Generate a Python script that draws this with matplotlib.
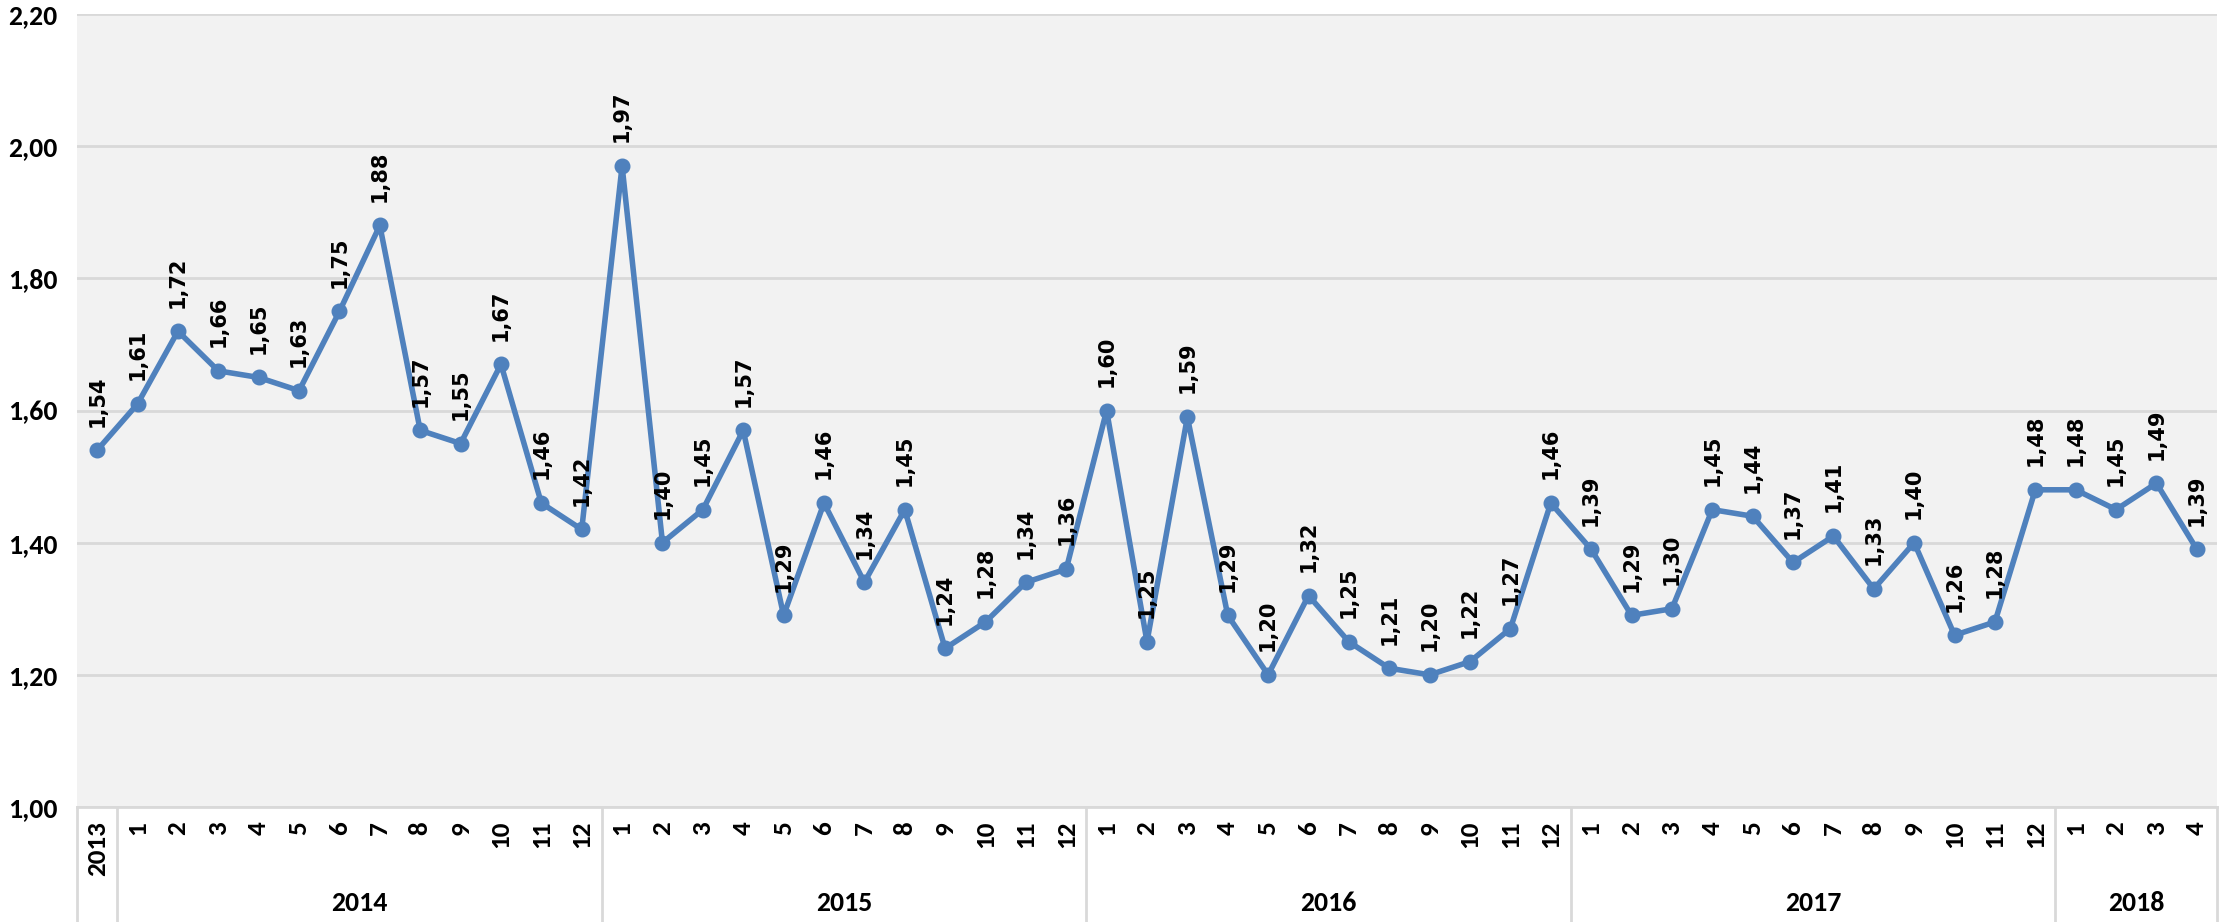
import matplotlib.pyplot as plt
from matplotlib import transforms

# data
years = ['2013', '2014', '2015', '2016', '2017', '2018']
months = [['2013'],
          [str(m) for m in range(1, 13)],
          [str(m) for m in range(1, 13)],
          [str(m) for m in range(1, 13)],
          [str(m) for m in range(1, 13)],
          ['1', '2', '3', '4']]
values_2013 = [1.54]
values_2014 = [1.61, 1.72, 1.66, 1.65, 1.63, 1.75, 1.88, 1.57, 1.55, 1.67, 1.46, 1.42]
values_2015 = [1.97, 1.40, 1.45, 1.57, 1.29, 1.46, 1.34, 1.45, 1.24, 1.28, 1.34, 1.36]
values_2016 = [1.60, 1.25, 1.59, 1.29, 1.20, 1.32, 1.25, 1.21, 1.20, 1.22, 1.27, 1.46]
values_2017 = [1.39, 1.29, 1.30, 1.45, 1.44, 1.37, 1.41, 1.33, 1.40, 1.26, 1.28, 1.48]
values_2018 = [1.48, 1.45, 1.49, 1.39]
y_ticks = [1.0, 1.2, 1.4, 1.6, 1.8, 2.0, 2.2]

values = values_2013 + values_2014 + values_2015 + values_2016 + values_2017 + values_2018
labels = [m for grp in months for m in grp]
x = list(range(len(values)))

BLUE = '#4f81bd'
GRID = '#d9d9d9'
CAL = ['Carlito', 'DejaVu Sans']

W, H = 2234, 922
fig = plt.figure(figsize=(W / 100, H / 100), dpi=100)
left, right, top, bottom = 77, 2217, 14, 807
ax = fig.add_axes([left / W, (H - bottom) / H, (right - left) / W, (bottom - top) / H])
ax.set_facecolor('#f2f2f2')

ax.plot(x, values, color=BLUE, lw=4, marker='o', ms=10.5, zorder=3)

for i, v in zip(x, values):
    ax.annotate(f'{v:.2f}'.replace('.', ','), (i, v), xytext=(0, 17),
                textcoords='offset points', rotation=90, ha='center', va='bottom',
                fontsize=15, fontweight='bold', color='black')

ax.set_xlim(-0.5, len(values) - 0.5)
ax.set_ylim(1.0, 2.2)
ax.set_yticks(y_ticks)
ax.set_yticklabels([f'{t:.2f}'.replace('.', ',') for t in y_ticks],
                   fontsize=20, fontweight='bold', family=CAL)
ax.yaxis.grid(True, color=GRID, lw=2)
ax.set_axisbelow(True)
ax.tick_params(axis='y', length=0, pad=14)

ax.set_xticks(x)
ax.set_xticklabels(labels, rotation=90, fontsize=19.5, fontweight='bold', family=CAL)
ax.tick_params(axis='x', length=0, pad=10)

for s in ['top', 'right', 'left']:
    ax.spines[s].set_visible(False)
ax.spines['bottom'].set_color(GRID)
ax.spines['bottom'].set_linewidth(2)

# group separators and year labels under the axis
trans = transforms.blended_transform_factory(ax.transData, fig.transFigure)
pos = 0
bounds = [-0.5]
for grp in months:
    pos += len(grp)
    bounds.append(pos - 0.5)
for b in bounds:
    ax.plot([b, b], [0, (H - bottom) / H], color=GRID, lw=2, transform=trans, clip_on=False)

start = 0
for yr, grp in zip(years, months):
    if yr != '2013':
        mid = start + (len(grp) - 1) / 2
        ax.text(mid, (H - 903) / H, yr, transform=trans, ha='center', va='center',
                fontsize=20, fontweight='bold', family=CAL)
    start += len(grp)

fig.savefig('out.png', dpi=100, facecolor='white')
